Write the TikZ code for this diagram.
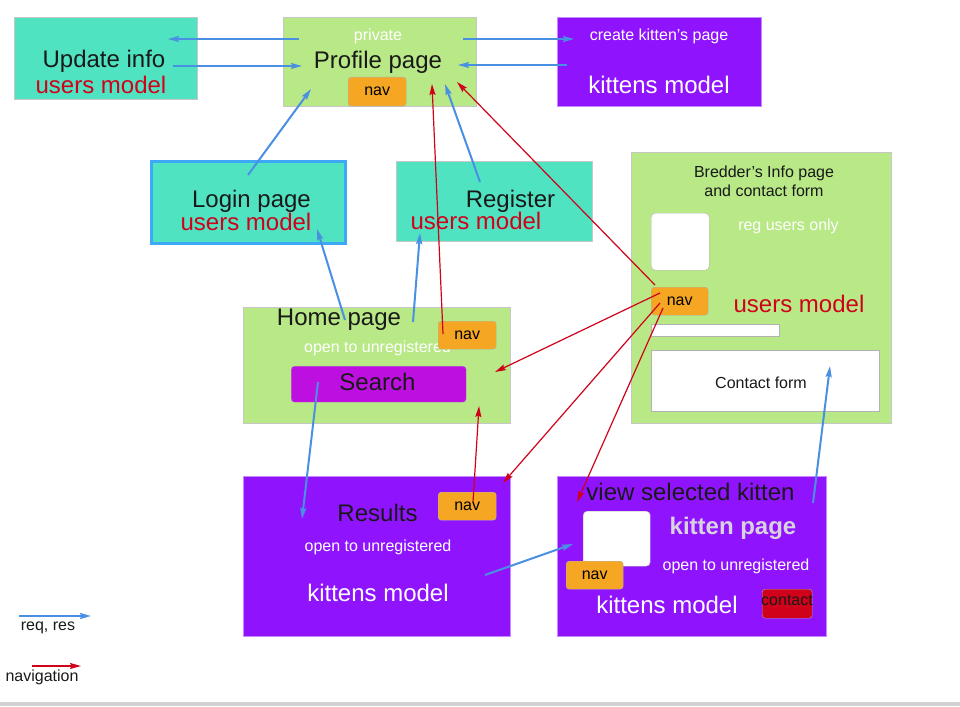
\documentclass[tikz,border=0pt]{standalone}
\usepackage{fontspec}
\setmainfont{Liberation Sans}
\usetikzlibrary{arrows.meta,calc}
\definecolor{usersteal}{HTML}{50E3C2}
\definecolor{pagegreen}{HTML}{B8E986}
\definecolor{kittenpurple}{HTML}{9013FE}
\definecolor{searchviolet}{HTML}{BD10E0}
\definecolor{navorange}{HTML}{F5A623}
\definecolor{modelred}{HTML}{D0021B}
\definecolor{linkblue}{HTML}{4A90E2}
\definecolor{loginblue}{HTML}{3DA8F5}
\definecolor{paleviolet}{HTML}{D8D2DE}
\tikzset{
  >={Stealth[length=11pt,width=6pt,inset=1.5pt]},
  pagebox/.style={
    draw=black!22,
    anchor=north west,
    inner sep=0pt
  },
  whitebox/.style={
    pagebox,
    fill=white,
    draw=black!30,
    rounded corners=4pt
  },
  navbox/.style={
    pagebox,
    fill=navorange,
    draw=black!30,
    rounded corners=3pt,
    minimum width=58pt,
    minimum height=28pt,
    font=\fontsize{16}{19}\selectfont
  },
  big/.style={inner sep=0pt, anchor=base, font=\fontsize{24}{28}\selectfont, text=black!90},
  small/.style={inner sep=0pt, anchor=base, font=\fontsize{16}{19}\selectfont, text=black!90},
  reqlink/.style={->, draw=linkblue, line width=2pt},
  navlink/.style={->, draw=modelred, line width=1.2pt}
}
\begin{document}
\begin{tikzpicture}[x=1pt, y=-1pt]
  \useasboundingbox (0,0) rectangle (960,706);
  \fill[black!18] (0,702) rectangle (960,706);

  \node[pagebox, fill=usersteal, minimum width=183pt, minimum height=82pt] (update) at (14,17) {};
  \node[pagebox, fill=pagegreen, minimum width=193pt, minimum height=89pt] (profile) at (283,17) {};
  \node[pagebox, fill=kittenpurple, draw=kittenpurple!50, minimum width=204pt, minimum height=89pt] (kittens) at (557,17) {};
  \node[pagebox, fill=usersteal, draw=loginblue, line width=3pt, minimum width=194pt, minimum height=82pt] (login) at (150,160) {};
  \node[pagebox, fill=usersteal, minimum width=196pt, minimum height=80pt] (register) at (396,161) {};
  \node[pagebox, fill=pagegreen, minimum width=260pt, minimum height=271pt] (breeder) at (631,152) {};
  \node[pagebox, fill=pagegreen, minimum width=267pt, minimum height=116pt] (home) at (243,307) {};
  \node[pagebox, fill=kittenpurple, draw=kittenpurple!50, minimum width=267pt, minimum height=160pt] (results) at (243,476) {};
  \node[pagebox, fill=kittenpurple, draw=kittenpurple!50, minimum width=269pt, minimum height=160pt] (kitten) at (557,476) {};

  \node[big] (updatelbl) at (104,68) {Update info};
  \node[big, text=modelred] (updatemodel) at (101,94) {users model};
  \node[small, text=white] (privatelbl) at (378,40.5) {private};
  \node[big] (profilelbl) at (378,68.3) {Profile page};
  \node[small, text=white] (createlbl) at (659,40.5) {create kitten’s page};
  \node[big, text=white] (kittensmodel) at (659,94) {kittens model};
  \node[big] (loginlbl) at (251.5,207.5) {Login page};
  \node[big, text=modelred] (loginmodel) at (246,230) {users model};
  \node[big] (registerlbl) at (510.5,207.7) {Register};
  \node[big, text=modelred] (registermodel) at (476,229.3) {users model};

  \node[small, align=center] (breederlbl) at (764,196.7) {Bredder’s Info page\\and contact form};
  \node[whitebox, minimum width=58pt, minimum height=57pt] (photo) at (651,213) {};
  \node[small, text=white] (reglbl) at (788.5,230) {reg users only};
  \node[big, text=modelred] (breedermodel) at (799,312) {users model};
  \node[pagebox, fill=white, draw=black!30, minimum width=128pt, minimum height=12pt] (namebar) at (651,324) {};
  \node[pagebox, fill=white, draw=black!30, minimum width=228pt, minimum height=61pt] (form) at (651,350) {};
  \node[small] (formlbl) at (761,388.3) {Contact form};

  \node[big] (homelbl) at (339,325) {Home page};
  \node[small, text=white] (homeopen) at (377.5,352.7) {open to unregistered};
  \node[pagebox, fill=searchviolet, draw=black!30, rounded corners=3pt, minimum width=175pt, minimum height=36pt] (search) at (291,366) {};
  \node[big] (searchlbl) at (377.5,390) {Search};

  \node[big] (resultslbl) at (377.5,521) {Results};
  \node[small, text=white] (resultsopen) at (378,551.7) {open to unregistered};
  \node[big, text=white] (resultsmodel) at (378,601.7) {kittens model};

  \node[big] (viewlbl) at (690.5,500) {view selected kitten};
  \node[whitebox, minimum width=67pt, minimum height=55pt] (kittenphoto) at (583,511) {};
  \node[big, text=paleviolet, font=\fontsize{24}{28}\selectfont\bfseries] (kittenpagelbl) at (733,534) {kitten page};
  \node[small, text=white] (kittenopen) at (736,570.7) {open to unregistered};
  \node[big, text=white] (kittenmodel) at (667,613.3) {kittens model};
  \node[pagebox, fill=modelred, draw=black!35, rounded corners=3pt, minimum width=50pt, minimum height=29pt] (contact) at (762,589) {};
  \node[small] (contactlbl) at (787,605.7) {contact};

  \node[navbox, minimum height=29pt] (profilenav) at (348,77) {nav};
  \node[navbox] (homenav) at (438,321) {nav};
  \node[navbox] (resultsnav) at (438,492) {nav};
  \node[navbox, minimum width=57pt] (kittennav) at (566,561) {nav};
  \node[navbox, minimum width=57pt] (breedernav) at (651,287) {nav};

  \draw[reqlink, line width=1.3pt] ($(profile.north west)+(16,22)$) -- ($(update.north west)+(154,22)$);
  \draw[reqlink, line width=1.3pt] ($(update.north west)+(159,49)$) -- ($(profile.north west)+(19,49)$);
  \draw[reqlink, line width=1.3pt] ($(profile.north west)+(180,22)$) -- ($(kittens.north west)+(17,22)$);
  \draw[reqlink, line width=1.3pt] ($(kittens.north west)+(10,48)$) -- ($(profile.north west)+(175,48)$);
  \draw[reqlink] ($(login.north west)+(98,15)$) -- ($(profile.north west)+(28,72)$);
  \draw[reqlink] ($(register.north west)+(84,21)$) -- ($(profile.north west)+(162,67)$);
  \draw[reqlink] ($(home.north west)+(102,13)$) -- ($(login.north west)+(167,69)$);
  \draw[reqlink] ($(home.north west)+(170,15)$) -- ($(register.north west)+(24,72)$);
  \draw[reqlink] ($(search.north west)+(27,16)$) -- ($(results.north west)+(59,43)$);
  \draw[reqlink] ($(results.north west)+(242,99)$) -- ($(kitten.north west)+(16,68)$);
  \draw[reqlink] ($(kitten.north west)+(256,27)$) -- ($(form.north west)+(179,16)$);

  \draw[navlink] ($(homenav.north west)+(5,13)$) -- ($(profile.north west)+(149,67)$);
  \draw[navlink] ($(breedernav.north west)+(4,-2)$) -- ($(profile.north west)+(174,65)$);
  \draw[navlink] ($(breedernav.north west)+(9,6)$) -- ($(home.north west)+(252,65)$);
  \draw[navlink] ($(breedernav.north west)+(9,16)$) -- ($(results.north west)+(260,7)$);
  \draw[navlink] ($(breedernav.north west)+(12,21)$) -- ($(kitten.north west)+(20,26)$);
  \draw[navlink] ($(resultsnav.north west)+(35,10)$) -- ($(home.north west)+(236,99)$);

  \coordinate (reqA) at (19,616);
  \coordinate (reqB) at (91,616);
  \coordinate (navA) at (32,666);
  \coordinate (navB) at (81,666);
  \draw[reqlink] (reqA) -- (reqB);
  \node[small] (reqlbl) at (48,630.7) {req, res};
  \draw[navlink] (navA) -- (navB);
  \node[small] (navlbl) at (42,681.7) {navigation};
\end{tikzpicture}
\end{document}
